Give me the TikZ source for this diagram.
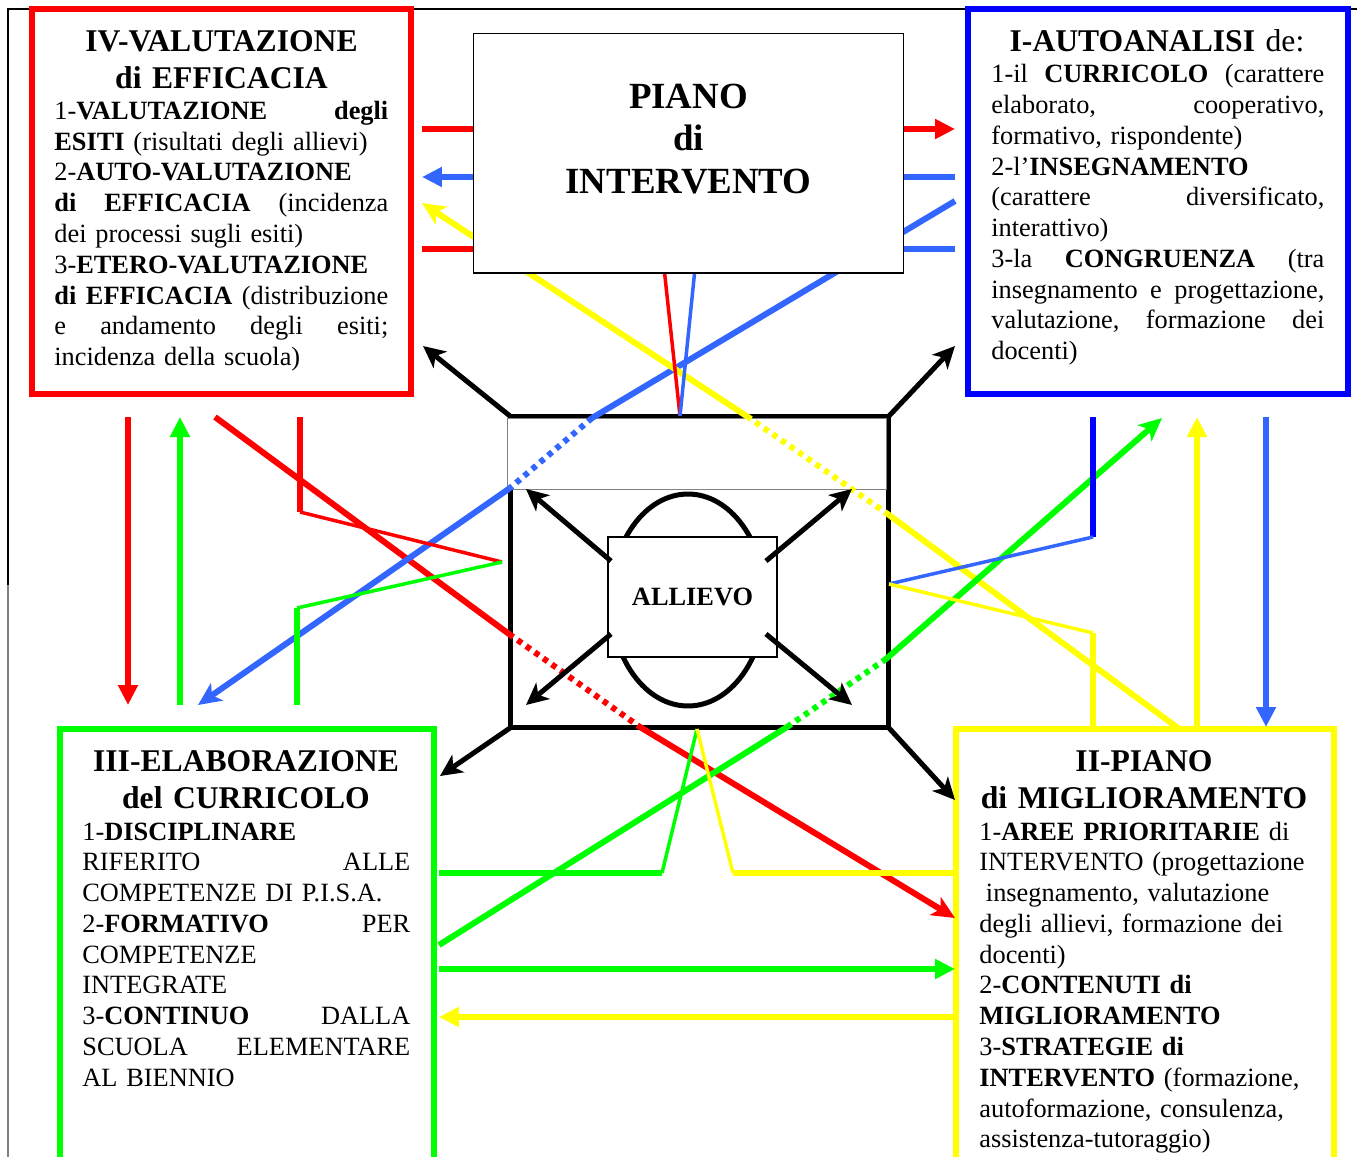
\documentclass[tikz,border=0pt]{standalone}
\usepackage{fontspec}
\setmainfont{Liberation Serif}
\usetikzlibrary{arrows.meta,calc,shapes.geometric}
\definecolor{pred}{RGB}{255,0,0}
\definecolor{pgreen}{RGB}{0,255,0}
\definecolor{pyellow}{RGB}{255,255,0}
\definecolor{pblue}{RGB}{0,0,255}
\definecolor{sky}{RGB}{51,102,255}
\definecolor{hair}{RGB}{128,128,128}
\newcommand{\gap}{\hskip 0pt plus 1filll\relax}
\tikzset{
  panel/.style={draw=#1, line width=1.2mm, inner sep=0pt, outer sep=0pt},
  card/.style={draw=black, line width=0.6pt, fill=white, inner sep=0pt, outer sep=0pt},
  ttl/.style={font=\fontsize{18}{20.83}\selectfont\bfseries, text width=7cm, align=center, inner sep=0pt, anchor=base},
  body/.style={font=\fontsize{15}{17.52}\selectfont, text width=#1, align=left, inner sep=0pt, anchor=base west},
  wire/.style={line width=1.2mm, draw=#1},
  strand/.style={line width=0.7mm, draw=#1},
  dashseg/.style={line width=1.2mm, draw=#1, dash pattern=on 1.05mm off 1.05mm},
  tri/.style={-{Triangle[length=4mm,width=3.8mm]}},
  stl/.style={-{Stealth[length=4.6mm,width=4.2mm,inset=1.2mm]}},
  blk/.style={line width=1mm, draw=black, -{Stealth[length=4.4mm,width=4.2mm,inset=1.2mm]}},
}

\begin{document}
\begin{tikzpicture}[x=0.02cm, y=-0.02cm]
  \useasboundingbox (0,0) rectangle (1357,1157);
  \coordinate (pgTR) at (1357,9);
  \coordinate (pgTL) at (8,9);
  \coordinate (pgML) at (8,585);
  \coordinate (pgBL) at (8,1160);
  \draw[line width=0.6pt] (pgTR) -- (pgTL) -- (pgML);
  \draw[line width=0.6pt, draw=hair] (pgML) -- (pgBL);

  \node[panel=pred, minimum width=7.58cm, minimum height=7.7cm] (valut) at (221.5,201.5) {};
  \node[panel=pblue, minimum width=7.6cm, minimum height=7.7cm] (autoan) at (1158,201.5) {};
  \node[panel=pgreen, minimum width=7.48cm, minimum height=9.22cm] (elab) at (247,959.5) {};
  \node[panel=pyellow, minimum width=7.56cm, minimum height=9.22cm] (miglior) at (1145,959.5) {};

  \node[ttl] (valutT) at ($(valut.north)+(0,42.7)$) {IV-VALUTAZIONE\\di EFFICACIA};
  \node[body=6.68cm] (valutB) at ($(valut.north west)+(22,110.3)$) {%
    1-\textbf{VALUTAZIONE}\gap\textbf{degli}\\
    \textbf{ESITI} (risultati degli allievi)\\
    2-\textbf{AUTO-VALUTAZIONE}\\
    \textbf{di}\gap\textbf{EFFICACIA}\gap(incidenza\\
    dei processi sugli esiti)\\
    3-\textbf{ETERO-VALUTAZIONE}\\
    \textbf{di}\gap\textbf{EFFICACIA}\gap(distribuzione\\
    e\gap andamento\gap degli\gap esiti;\\
    incidenza della scuola)};

  \node[ttl] (autoanT) at ($(autoan.north)+(-1,42.7)$) {I-AUTOANALISI \textmd{de:}};
  \node[body=6.66cm] (autoanB) at ($(autoan.north west)+(23,73.7)$) {%
    1-il\gap\textbf{CURRICOLO}\gap(carattere\\
    elaborato,\gap cooperativo,\\
    formativo, rispondente)\\
    2-l’\textbf{INSEGNAMENTO}\\
    (carattere\gap diversificato,\\
    interattivo)\\
    3-la\gap\textbf{CONGRUENZA}\gap(tra\\
    insegnamento\gap e\gap progettazione,\\
    valutazione,\gap formazione\gap dei\\
    docenti)};

  \node[ttl] (elabT) at ($(elab.north)+(-1,42.7)$) {III-ELABORAZIONE\\del CURRICOLO};
  \node[body=6.56cm] (elabB) at ($(elab.north west)+(22,111)$) {%
    1-\textbf{DISCIPLINARE}\\
    RIFERITO\gap ALLE\\
    COMPETENZE DI P.I.S.A.\\
    2-\textbf{FORMATIVO}\gap PER\\
    COMPETENZE\\
    INTEGRATE\\
    3-\textbf{CONTINUO}\gap DALLA\\
    SCUOLA\gap ELEMENTARE\\
    AL BIENNIO};

  \node[ttl] (migliorT) at ($(miglior.north)+(-1,42.7)$) {II-PIANO\\di MIGLIORAMENTO};
  \node[body=6.6cm] (migliorB) at ($(miglior.north west)+(23,111)$) {%
    1-\textbf{AREE PRIORITARIE} di\\
    INTERVENTO (progettazione\\
    \hspace*{0.25em}insegnamento, valutazione\\
    degli allievi, formazione dei\\
    docenti)\\
    2-\textbf{CONTENUTI di}\\
    \textbf{MIGLIORAMENTO}\\
    3-\textbf{STRATEGIE di}\\
    \textbf{INTERVENTO} (formazione,\\
    autoformazione, consulenza,\\
    assistenza-tutoraggio)};

  \node[draw=black, line width=1mm, inner sep=0pt, outer sep=0pt, minimum width=7.58cm, minimum height=6.24cm] (frame) at (699.5,572) {};
  \node[draw=hair, line width=0.5pt, fill=white, inner sep=0pt, outer sep=0pt, minimum width=7.58cm, minimum height=1.42cm] (band) at (696.5,453.5) {};
  \node[draw=black, ellipse, line width=1mm, inner sep=0pt, minimum width=3.08cm, minimum height=4.24cm] (eye) at (688,600) {};
  \node[card, minimum width=3.38cm, minimum height=2.4cm, font=\fontsize{15}{18}\selectfont\bfseries] (allievo) at (692.5,597) {ALLIEVO};

  \coordinate (rA) at (215,417);  \coordinate (rB) at (509,634);  \coordinate (rC) at (640,727);  \coordinate (rD) at (955,918);
  \coordinate (bA) at (955,201);  \coordinate (bB) at (592,418);  \coordinate (bC) at (510,488);  \coordinate (bD) at (198,705);
  \coordinate (yA) at (1178,728); \coordinate (yB) at (889,515);  \coordinate (yC) at (748,417);  \coordinate (yD) at (422,203);
  \coordinate (gA) at (439,945);  \coordinate (gB) at (787,727);  \coordinate (gC) at (886,659);  \coordinate (gD) at (1162,418);
  \foreach \col/\sa/\sb/\sc/\sd in {pred/rA/rB/rC/rD, sky/bA/bB/bC/bD, pyellow/yA/yB/yC/yD, pgreen/gA/gB/gC/gD} {
    \draw[wire=\col] (\sa) -- (\sb);
    \draw[dashseg=\col] (\sb) -- (\sc);
    \draw[wire=\col, stl] (\sc) -- (\sd);
  }

  \coordinate (rdT) at (128,417);  \coordinate (rdB) at (128,705);
  \coordinate (guB) at (180,705);  \coordinate (guT) at (180,417);
  \coordinate (yuB) at (1197,727); \coordinate (yuT) at (1197,417);
  \coordinate (bdT) at (1266,417); \coordinate (bdB) at (1266,727);
  \coordinate (rhL) at (422,129);  \coordinate (rhR) at (955,129);
  \coordinate (bhR) at (955,177);  \coordinate (bhL) at (422,177);
  \coordinate (ghL) at (439,969);  \coordinate (ghR) at (955,969);
  \coordinate (yhR) at (955,1017); \coordinate (yhL) at (439,1017);
  \foreach \col/\sa/\sb in {pred/rdT/rdB, pgreen/guB/guT, pyellow/yuB/yuT, sky/bdT/bdB,
                            pred/rhL/rhR, sky/bhR/bhL, pgreen/ghL/ghR, pyellow/yhR/yhL}
    \draw[wire=\col, tri] (\sa) -- (\sb);

  \coordinate (fTop) at (680,416);   \coordinate (fLeft) at (502,562);
  \coordinate (fRight) at (889,584); \coordinate (fBot) at (697,729);
  \coordinate (rtA) at (422,249);  \coordinate (rtB) at (662,249);
  \coordinate (btA) at (955,249);  \coordinate (btB) at (697,249);
  \coordinate (rlA) at (300,417);  \coordinate (rlB) at (300,512);
  \coordinate (glA) at (297,705);  \coordinate (glB) at (297,608);
  \coordinate (brA) at (1093,417); \coordinate (brB) at (1093,537);
  \coordinate (yrA) at (1093,727); \coordinate (yrB) at (1093,633);
  \coordinate (gbA) at (439,873);  \coordinate (gbB) at (662,873);
  \coordinate (ybA) at (953,873);  \coordinate (ybB) at (733,873);
  \draw[wire=pred] (rtA) -- (rtB);      \draw[strand=pred] (rtB) -- (fTop);
  \draw[wire=sky] (btA) -- (btB);       \draw[strand=sky] (btB) -- (fTop);
  \draw[wire=pred] (rlA) -- (rlB);      \draw[strand=pred] (rlB) -- (fLeft);
  \draw[wire=pgreen] (glA) -- (glB);    \draw[strand=pgreen] (glB) -- (fLeft);
  \draw[wire=pblue] (brA) -- (brB);     \draw[strand=sky] (brB) -- (fRight);
  \draw[wire=pyellow] (yrA) -- (yrB);   \draw[strand=pyellow] (yrB) -- (fRight);
  \draw[wire=pgreen] (gbA) -- (gbB);    \draw[strand=pgreen] (gbB) -- (fBot);
  \draw[wire=pyellow] (ybA) -- (ybB);   \draw[strand=pyellow] (ybB) -- (fBot);

  \node[card, minimum width=8.62cm, minimum height=4.8cm] (piano) at (688.5,153) {};
  \node[font=\fontsize{21}{24.19}\selectfont\bfseries, text width=8cm, align=center, inner sep=0pt, anchor=base] (pianoT) at ($(piano.north)+(0,75.3)$) {PIANO\\di\\INTERVENTO};

  \coordinate (kNW) at (423,346); \coordinate (kNE) at (955,346);
  \coordinate (kSW) at (440,776); \coordinate (kSE) at (955,800);
  \coordinate (aNW) at ($(allievo.north west)+(3,24)$);  \coordinate (tNW) at (526,489);
  \coordinate (aNE) at ($(allievo.north east)+(-11,24)$); \coordinate (tNE) at (852,489);
  \coordinate (aSW) at ($(allievo.south west)+(3,-23)$);  \coordinate (tSW) at (526,705);
  \coordinate (aSE) at ($(allievo.south east)+(-11,-23)$); \coordinate (tSE) at (852,705);
  \foreach \sa/\sb in {frame.north west/kNW, frame.north east/kNE, frame.south west/kSW, frame.south east/kSE,
                       aNW/tNW, aNE/tNE, aSW/tSW, aSE/tSE}
    \draw[blk] (\sa) -- (\sb);
\end{tikzpicture}
\end{document}
